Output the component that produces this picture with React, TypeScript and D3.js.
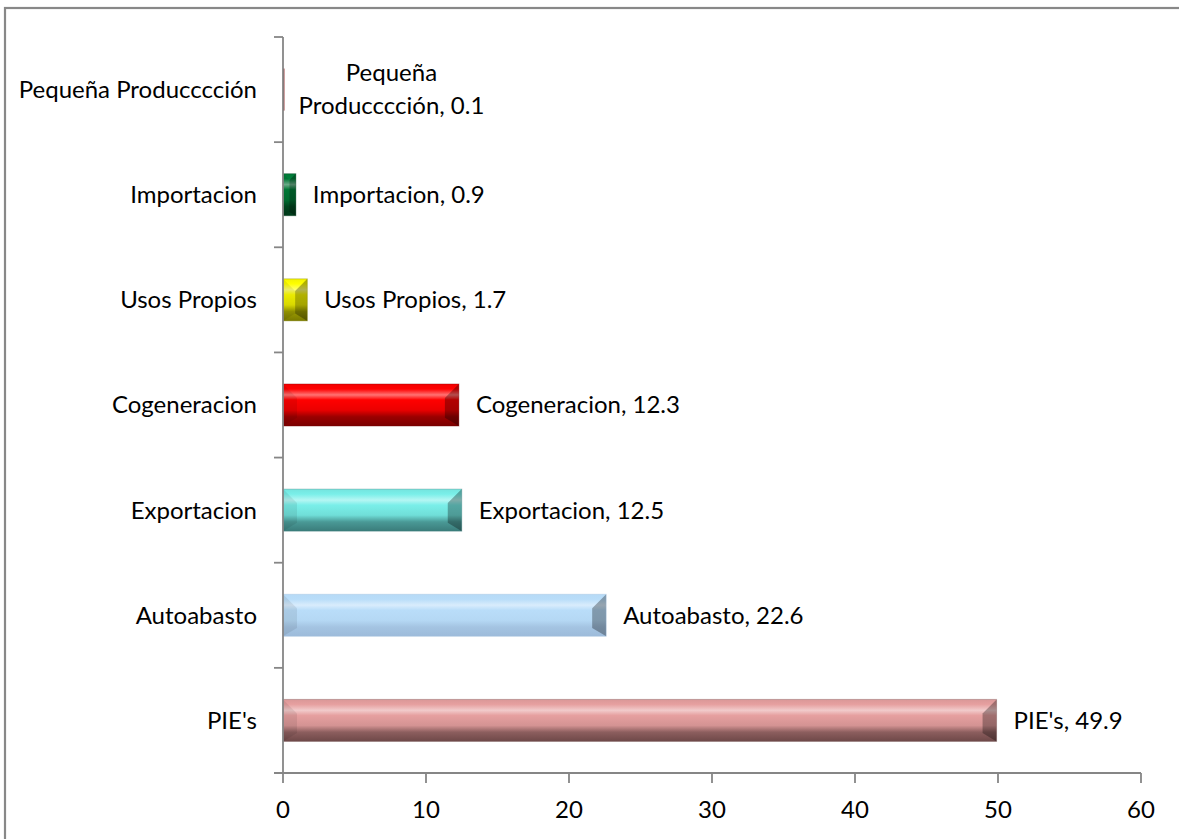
import React from "react";
import * as d3 from "d3";

const categories = [
  "PIE's",
  "Autoabasto",
  "Exportacion",
  "Cogeneracion",
  "Usos Propios",
  "Importacion",
  "Pequeña Producccción",
];
const values = [49.9, 22.6, 12.5, 12.3, 1.7, 0.9, 0.1];
const xTicks = [0, 10, 20, 30, 40, 50, 60];
const wrappedLabels = ["Pequeña Producccción"];

const baseColors = ["#E6A0A0", "#B9DDF9", "#7AEFE9", "#FF0000", "#FFFF00", "#00803A", "#8E2525"];
const darkColors = ["#6E4848", "#9DBBDA", "#3A7C7A", "#7A0000", "#7A7A00", "#003A1A", "#701818"];

const W = 1179;
const H = 839;
const FONT = "Lato, 'Noto Sans', sans-serif";
const FS = 24;

export default function App() {
  const x = d3.scaleLinear().domain([0, 60]).range([283, 1141]);
  const y = d3
    .scaleBand<string>()
    .domain([...categories].reverse())
    .range([37, 773])
    .paddingInner(0.6)
    .paddingOuter(0.3);
  const bandStep = y.step();
  const yBoundaries = d3.range(categories.length + 1).map((i) => 37 + i * bandStep);

  const mix = (a: string, b: string, t: number) => d3.interpolateRgb(a, b)(t);

  return (
    <svg
      width={W}
      height={H}
      style={{ position: "absolute", left: 0, top: 0, background: "#fff" }}
      fontFamily={FONT}
    >
      <defs>
        {categories.map((c, i) => {
          const base = baseColors[i];
          const dark = darkColors[i];
          return (
            <linearGradient key={c} id={`g${i}`} x1="0" y1="0" x2="0" y2="1">
              <stop offset="0" stopColor={mix(base, dark, 0.1)} />
              <stop offset="0.12" stopColor={base} />
              <stop offset="0.26" stopColor={mix(base, "#ffffff", 0.45)} />
              <stop offset="0.38" stopColor={base} />
              <stop offset="0.62" stopColor={mix(base, dark, 0.15)} />
              <stop offset="0.78" stopColor={mix(base, dark, 0.75)} />
              <stop offset="1" stopColor={dark} />
            </linearGradient>
          );
        })}
      </defs>

      <rect x={5} y={8} width={W + 20} height={H + 20} fill="#fff" stroke="#888" strokeWidth={2.2} />

      {/* bars */}
      {categories.map((c, i) => {
        const x0 = x(0);
        const x1 = x(values[i]);
        const y0 = y(c)!;
        const h = y.bandwidth();
        const y1 = y0 + h;
        const w = x1 - x0;
        const b = Math.min(14, h / 2, w / 2);
        return (
          <g key={c}>
            <rect x={x0} y={y0} width={w} height={h} fill={w > 3 ? `url(#g${i})` : baseColors[i]} />
            {w > 3 && (
              <>
                <polygon
                  points={`${x0},${y0} ${x0 + b},${y0 + b} ${x0 + b},${y1 - b * 0.6} ${x0},${y1}`}
                  fill="#000"
                  fillOpacity={0.08}
                />
                <polygon
                  points={`${x1},${y0} ${x1 - b},${y0 + b} ${x1 - b},${y1 - b * 0.6} ${x1},${y1}`}
                  fill="#000"
                  fillOpacity={0.3}
                />
                <rect x={x0} y={y0} width={w} height={h} fill="none" stroke={darkColors[i]} strokeOpacity={0.35} strokeWidth={1} />
              </>
            )}
          </g>
        );
      })}

      {/* y axis */}
      <line x1={x(0)} x2={x(0)} y1={37} y2={773} stroke="#868686" strokeWidth={1.8} />
      {yBoundaries.map((yy, i) => (
        <line key={i} x1={274} x2={x(0)} y1={yy} y2={yy} stroke="#868686" strokeWidth={1.8} />
      ))}
      {/* x axis */}
      <line x1={x(0) - 9} x2={x(60)} y1={773} y2={773} stroke="#868686" strokeWidth={1.8} />
      {xTicks.map((t) => (
        <g key={t}>
          <line x1={x(t)} x2={x(t)} y1={773} y2={783} stroke="#868686" strokeWidth={1.8} />
          <text x={x(t)} y={818} textAnchor="middle" fontSize={FS} fill="#000">
            {t}
          </text>
        </g>
      ))}

      {/* category labels */}
      {categories.map((c) => (
        <text
          key={c}
          x={257}
          y={y(c)! + y.bandwidth() / 2 + FS * 0.35}
          textAnchor="end"
          fontSize={FS}
          fill="#000"
        >
          {c}
        </text>
      ))}

      {/* data labels */}
      {categories.map((c, i) => {
        const cy = y(c)! + y.bandwidth() / 2;
        const label = `${c}, ${values[i]}`;
        const lx = x(values[i]) + 17;
        if (wrappedLabels.includes(c)) {
          const sp = c.indexOf(" ");
          const lines = [c.slice(0, sp), `${c.slice(sp + 1)}, ${values[i]}`];
          const cx = lx + 90;
          return (
            <text key={c} textAnchor="middle" fontSize={FS} fill="#000">
              {lines.map((ln, k) => (
                <tspan key={k} x={cx} y={cy + (k - 0.5) * 33 + FS * 0.35}>
                  {ln}
                </tspan>
              ))}
            </text>
          );
        }
        return (
          <text key={c} x={lx} y={cy + FS * 0.35} fontSize={FS} fill="#000">
            {label}
          </text>
        );
      })}
    </svg>
  );
}
